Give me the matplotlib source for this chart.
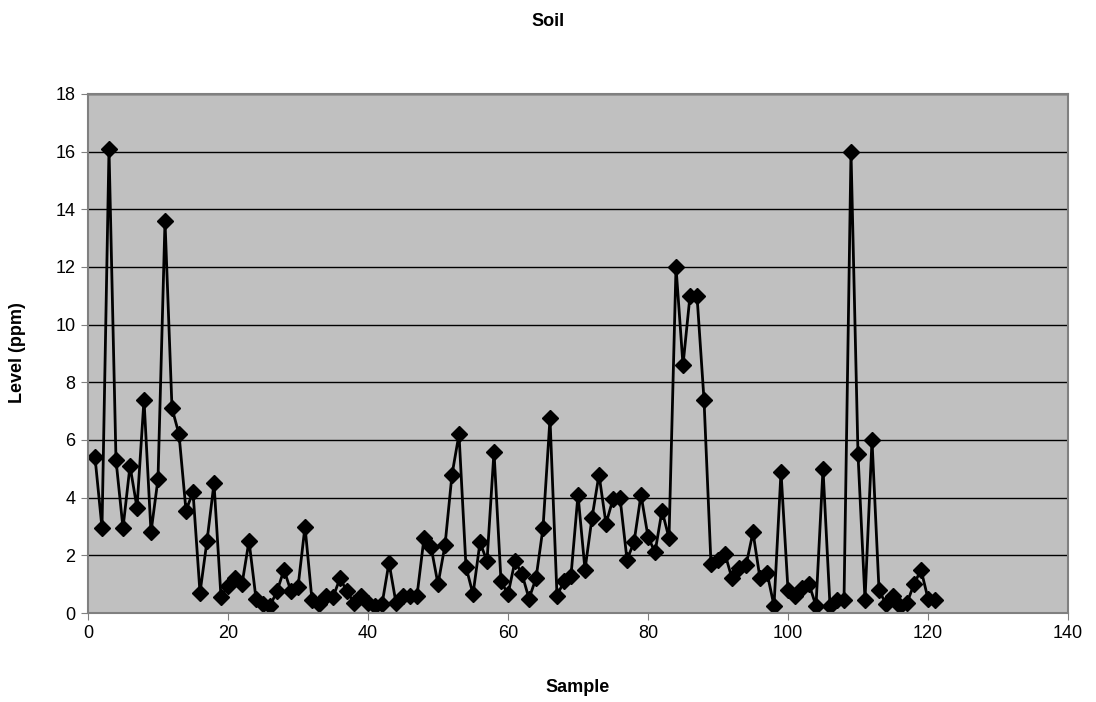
import numpy as np
import matplotlib
matplotlib.use("Agg")
import matplotlib.pyplot as plt

plt.rcParams['font.family'] = ['Liberation Sans', 'DejaVu Sans']

# Soil sample levels (ppm), samples numbered 1..121
sample = list(range(1, 122))
level = [
    5.4, 2.95, 16.1, 5.3, 2.95, 5.1, 3.65, 7.4, 2.8, 4.65,
    13.6, 7.1, 6.2, 3.55, 4.2, 0.7, 2.5, 4.5, 0.55, 0.95,
    1.2, 1.0, 2.5, 0.5, 0.3, 0.25, 0.75, 1.5, 0.75, 0.9,
    3.0, 0.45, 0.3, 0.6, 0.55, 1.2, 0.75, 0.35, 0.6, 0.35,
    0.25, 0.3, 1.75, 0.35, 0.6, 0.6, 0.6, 2.6, 2.3, 1.0,
    2.35, 4.8, 6.2, 1.6, 0.65, 2.45, 1.8, 5.6, 1.1, 0.65,
    1.8, 1.35, 0.5, 1.2, 2.95, 6.75, 0.6, 1.1, 1.3, 4.1,
    1.5, 3.3, 4.8, 3.1, 3.95, 4.0, 1.85, 2.45, 4.1, 2.65,
    2.1, 3.55, 2.6, 12.0, 8.6, 11.0, 11.0, 7.4, 1.7, 1.85,
    2.05, 1.2, 1.55, 1.65, 2.8, 1.2, 1.4, 0.25, 4.9, 0.8,
    0.6, 0.85, 1.0, 0.25, 5.0, 0.25, 0.45, 0.45, 16.0, 5.5,
    0.45, 6.0, 0.8, 0.3, 0.6, 0.25, 0.35, 1.0, 1.5, 0.5,
    0.45,
]
x_ticks = [0, 20, 40, 60, 80, 100, 120, 140]
y_ticks = [0, 2, 4, 6, 8, 10, 12, 14, 16, 18]

W, H = 1096, 702
fig = plt.figure(figsize=(W / 100, H / 100), dpi=100)
ax = fig.add_axes([88 / W, 89 / H, 980 / W, 519 / H])
ax.set_facecolor('#c0c0c0')

ax.set_xlim(0, 140)
ax.set_ylim(0, 18)
ax.set_xticks(x_ticks)
ax.set_yticks(y_ticks)
ax.yaxis.grid(True, color='black', linewidth=1)
ax.set_axisbelow(True)

ax.plot(sample, level, color='black', linewidth=2, marker='D',
        markersize=8, markerfacecolor='black', markeredgecolor='black')

for side in ['top', 'right', 'left', 'bottom']:
    ax.spines[side].set_color('#808080')
    ax.spines[side].set_linewidth(1.5)

ax.tick_params(axis='both', direction='out', length=5, color='#808080',
               labelsize=13, pad=4)

# labels placed in figure pixels to match the original layout
fig.text(548 / W, 1 - 22 / H, 'Soil', fontsize=13, fontweight='bold',
         ha='center', va='center')
fig.text(578 / W, 1 - 687 / H, 'Sample', fontsize=13, fontweight='bold',
         ha='center', va='center')
fig.text(18 / W, 1 - 353 / H, 'Level (ppm)', fontsize=13, fontweight='bold',
         ha='center', va='center', rotation=90)

fig.savefig('out.png', dpi=100)
